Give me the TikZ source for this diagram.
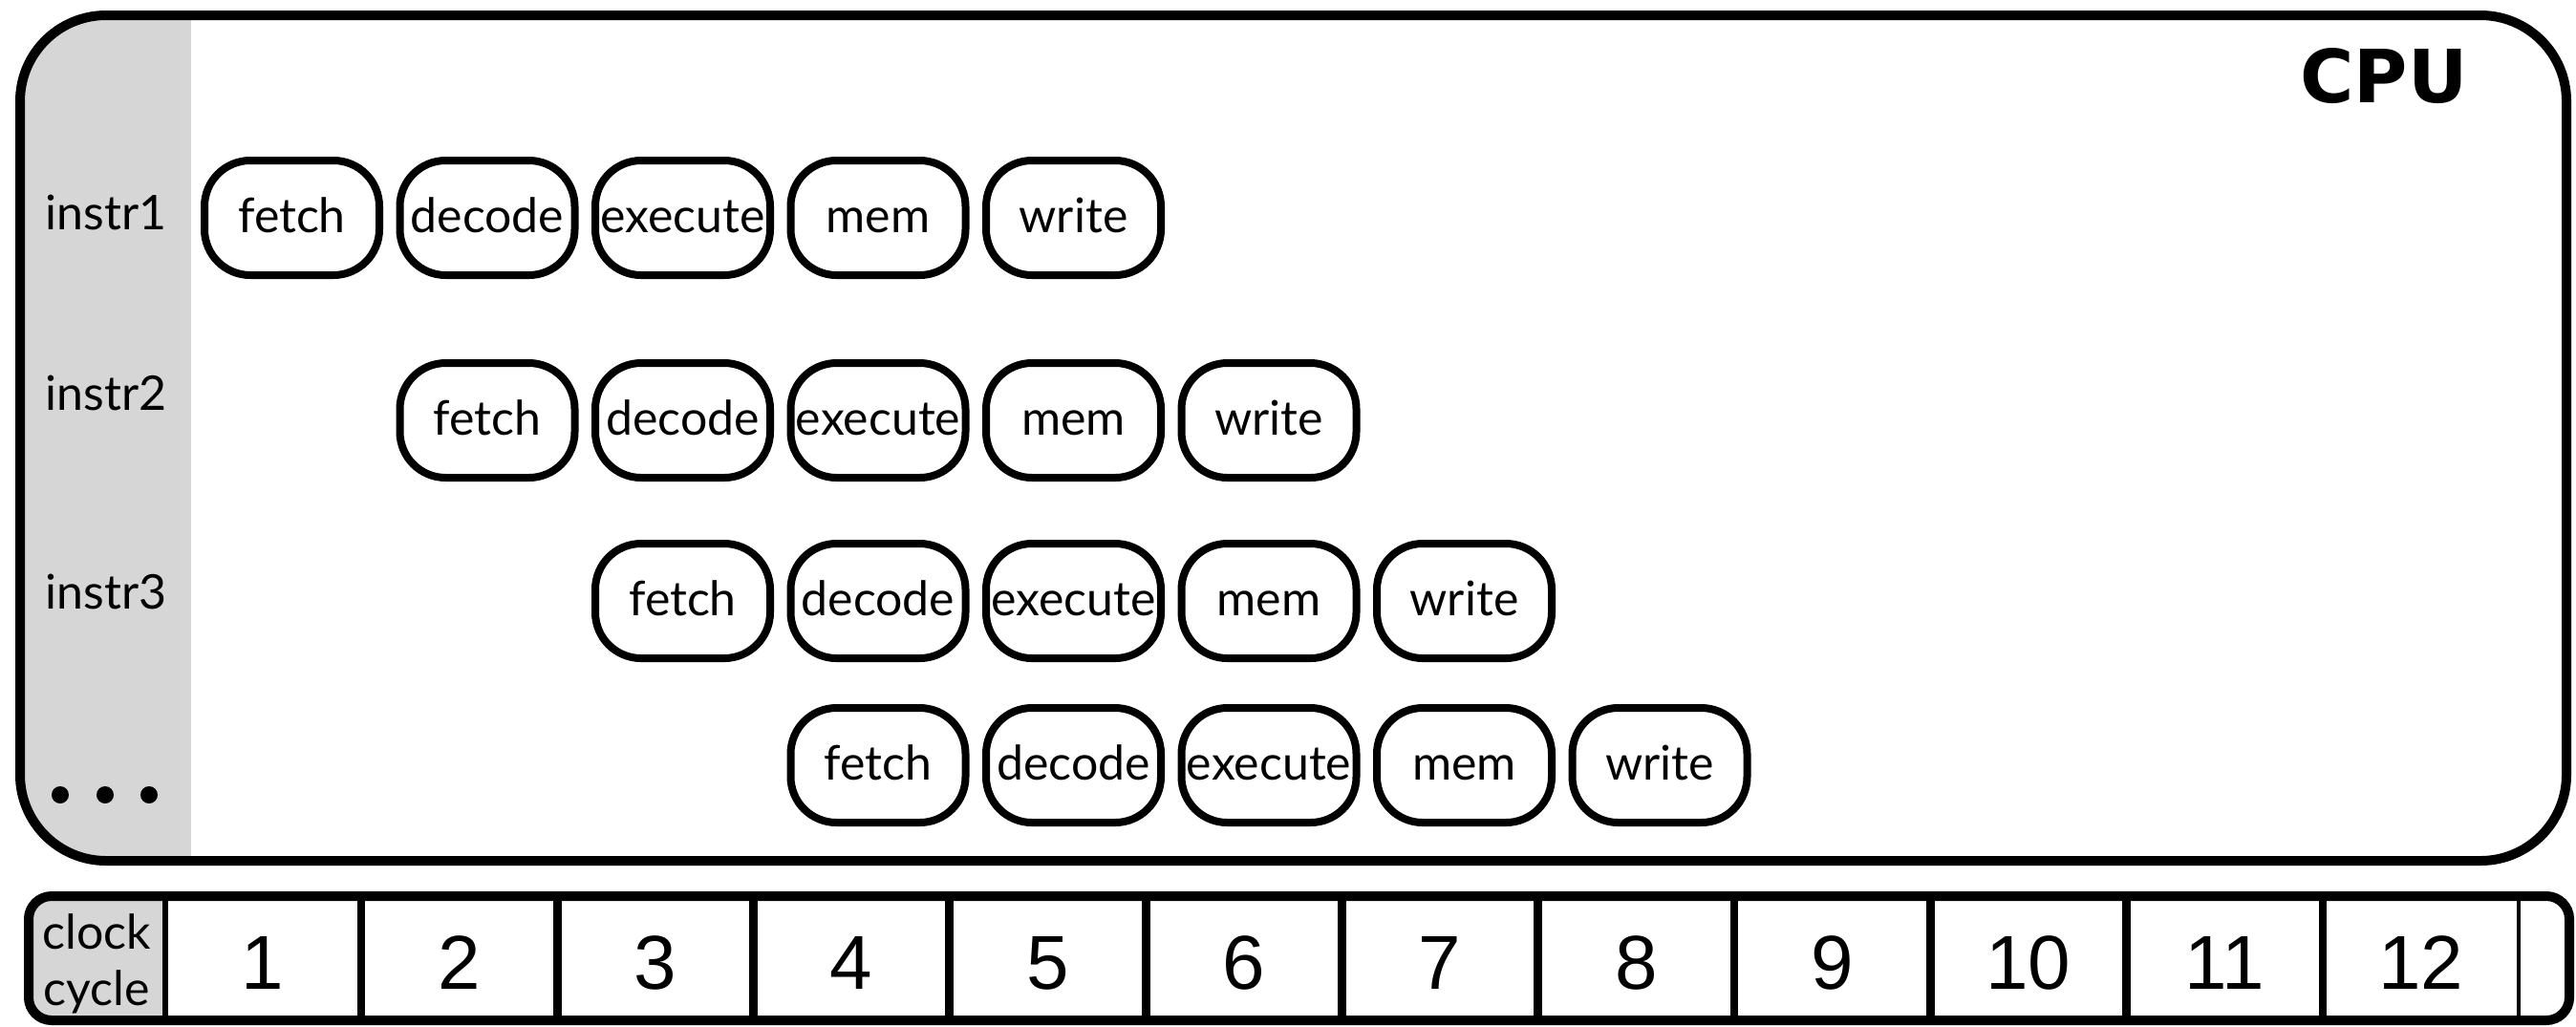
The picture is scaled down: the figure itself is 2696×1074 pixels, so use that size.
\documentclass[tikz,border=0pt]{standalone}
\usepackage{fontspec}
\setmainfont{Lato}
\newfontfamily\numfont{Liberation Sans}
\newfontfamily\cpufont{DejaVu Sans}
\definecolor{colgray}{HTML}{D6D6D6}
\begin{document}
\begin{tikzpicture}[x=0.25pt,y=-0.25pt,
  stage/.style={draw, line width=2pt, rounded corners=12pt, minimum width=45.75pt, minimum height=30pt,
    inner sep=0pt, text height=7.5pt, text depth=0pt, font=\fontsize{12.5}{14}\selectfont},
  rowlabel/.style={anchor=base west, inner sep=0pt, font=\fontsize{12.5}{14}\selectfont},
  numtxt/.style={anchor=base, inner sep=0pt, font=\numfont\fontsize{20}{22}\selectfont},
  frame/.style={draw, line width=2.5pt}]
\useasboundingbox (0,0) rectangle (2696,1074);
% CPU container
\begin{scope}
  \clip[rounded corners=22.5pt] (21,16) rectangle (2686,901);
  \fill[colgray] (21,16) rectangle (200,901);
\end{scope}
\draw[frame, rounded corners=22.5pt] (21,16) rectangle (2686,901);
\node[anchor=base, inner sep=0pt, font=\cpufont\bfseries\fontsize{19.2}{21}\selectfont] (cpu) at (2495,107) {CPU};
% row labels
\node[rowlabel] (l1) at (47,240) {instr1};
\node[rowlabel] (l2) at (47,429) {instr2};
\node[rowlabel] (l3) at (47,637) {instr3};
\foreach \x [count=\i] in {63,110,156} \fill (\x,832) circle[radius=9] coordinate (dot\i);
% stages
\foreach \r/\s/\y in {1/0/228, 2/1/440, 3/2/629, 4/3/801} {
  \foreach \n [count=\j from 0] in {fetch,decode,execute,mem,write} {
    \node[stage] (s\r-\j) at ({305.5+204.5*(\s+\j)},\y) {\n};
  }
}
% clock row
\begin{scope}
  \clip[rounded corners=6pt] (30,938) rectangle (2689,1068);
  \fill[colgray] (30,938) rectangle (172.6,1068);
\end{scope}
\draw[frame, rounded corners=6pt] (30,938) rectangle (2689,1068);
\draw[line width=1.5pt] (172.6,938) -- (172.6,1068);
\foreach \k in {1,...,11} \draw[line width=2.2pt] ({172.6+205.3*\k},938) -- ({172.6+205.3*\k},1068);
\draw[line width=1pt] (2636,938) -- (2636,1068);
\node[rowlabel, anchor=base] (clk) at (101,993) {clock};
\node[rowlabel, anchor=base] (cyc) at (101,1052) {cycle};
\foreach \i in {1,...,12} \node[numtxt] (n\i) at ({275.2+205.3*(\i-1)},1035) {\i};
\end{tikzpicture}
\end{document}
